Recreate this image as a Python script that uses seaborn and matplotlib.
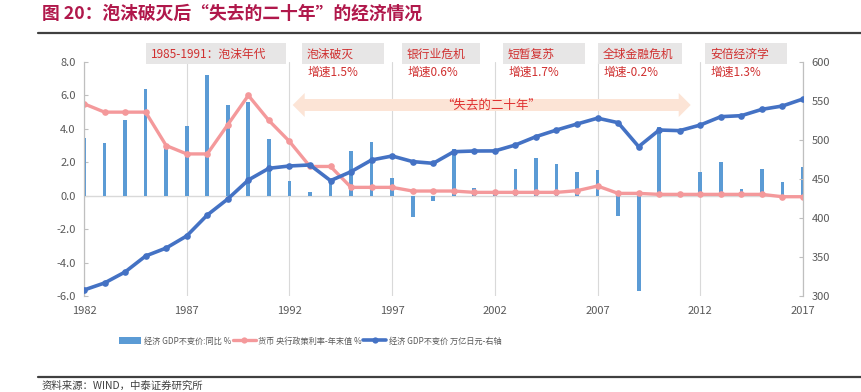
import matplotlib
matplotlib.use("Agg")
import matplotlib.pyplot as plt
import seaborn as sns
import numpy as np
import pandas as pd
from matplotlib.patches import Rectangle, Polygon, Patch
from matplotlib.lines import Line2D

years = list(range(1982, 2018))
gdp_growth = [3.43, 3.13, 4.53, 6.38, 2.97, 4.17, 7.22, 5.43, 5.63, 3.37,
              0.88, 0.20, 0.90, 2.67, 3.20, 1.04, -1.26, -0.32, 2.80, 0.44,
              0.12, 1.58, 2.24, 1.88, 1.42, 1.54, -1.22, -5.68, 4.13, -0.10,
              1.44, 2.04, 0.38, 1.60, 0.80, 1.74]
policy_rate = [5.5, 5.0, 5.0, 5.0, 3.0, 2.5, 2.5, 4.25, 6.0, 4.5,
               3.25, 1.75, 1.75, 0.5, 0.5, 0.5, 0.28, 0.28, 0.28, 0.2,
               0.2, 0.2, 0.2, 0.2, 0.3, 0.58, 0.14, 0.14, 0.08, 0.08,
               0.08, 0.08, 0.08, 0.08, -0.06, -0.06]
gdp_level = [307.7, 316.7, 330.8, 351.3, 361.5, 377.0, 403.8, 424.4, 448.7, 463.7,
             466.7, 468.0, 447.9, 459.4, 474.4, 479.5, 472.3, 470.1, 485.0, 485.9,
             486.0, 493.6, 504.3, 512.8, 520.5, 528.0, 522.2, 491.5, 512.8, 512.0,
             519.2, 529.9, 531.2, 539.3, 543.6, 552.6]
xtick_years = [1982, 1987, 1992, 1997, 2002, 2007, 2012, 2017]
period_labels = ["1985-1991：泡沫年代", "泡沫破灭", "银行业危机", "短暂复苏", "全球金融危机", "安倍经济学"]
period_growth = [None, "增速1.5%", "增速0.6%", "增速1.7%", "增速-0.2%", "增速1.3%"]
series_names = ["经济 GDP不变价:同比 %", "货币 央行政策利率-年末值 %", "经济 GDP不变价 万亿日元-右轴"]
title_text = "图 20：泡沫破灭后“失去的二十年”的经济情况"
arrow_text = "“失去的二十年”"
source_text = "资料来源：WIND，中泰证券研究所"

sns.set_style("white")
plt.rcParams["font.family"] = ["Noto Sans CJK SC", "DejaVu Sans"]
plt.rcParams["axes.unicode_minus"] = False

W, H = 862, 392
def fx(x): return x / W
def fy(y): return 1 - y / H

BAR_C = "#5b9bd5"
PINK_C = "#f4999b"
BLUE_C = "#4472c4"
GRAY_T = "#595959"
RED_T = "#d03030"

fig = plt.figure(figsize=(W / 100, H / 100), dpi=100)
ax = fig.add_axes([fx(84), fy(296), (803 - 84) / W, (296 - 62) / H])
ax2 = ax.twinx()

df = pd.DataFrame({"year": years, "gdp_growth": gdp_growth,
                   "policy_rate": policy_rate, "gdp_level": gdp_level})

sns.barplot(data=df, x="year", y="gdp_growth", native_scale=True, width=0.18,
            color=BAR_C, saturation=1, errorbar=None, ax=ax, zorder=2,
            linewidth=0)
sns.lineplot(data=df, x="year", y="policy_rate", color=PINK_C, lw=2.4,
             marker="o", markersize=4.8, markeredgewidth=0, ax=ax, zorder=3)
sns.lineplot(data=df, x="year", y="gdp_level", color=BLUE_C, lw=2.6,
             marker="o", markersize=4.8, markeredgewidth=0, ax=ax2, zorder=3)

ax.set_xlim(1982, 2017)
ax.set_ylim(-6, 8)
ax2.set_ylim(300, 600)
ax.set_yticks(np.arange(-6, 8.1, 2))
ax.set_yticklabels([f"{v:.1f}" for v in np.arange(-6, 8.1, 2)])
ax2.set_yticks(np.arange(300, 601, 50))
ax.set_xticks(xtick_years)
ax.set_xticklabels([str(y) for y in xtick_years])
for a in (ax, ax2):
    a.set_xlabel("")
    a.set_ylabel("")
    if a.get_legend():
        a.get_legend().remove()

ax.grid(axis="x", color="#d9d9d9", lw=0.8, zorder=0)
ax.set_axisbelow(True)
ax.axhline(0, color="#d9d9d9", lw=1.0, zorder=1)

for a in (ax, ax2):
    for s in ("top", "bottom"):
        a.spines[s].set_visible(False)
    a.spines["left"].set_color("#bfbfbf")
    a.spines["right"].set_color("#bfbfbf")
ax.tick_params(axis="x", length=0, pad=7, labelsize=8, labelcolor=GRAY_T)
ax.tick_params(axis="y", direction="in", length=3, color="#bfbfbf", pad=6,
               labelsize=8, labelcolor=GRAY_T)
ax2.tick_params(axis="y", direction="in", length=3, color="#bfbfbf", pad=6,
                labelsize=8, labelcolor=GRAY_T)

# Title and rules
fig.text(fx(42), fy(14), title_text, color="#b0184b", fontsize=12.8,
         fontweight="bold", ha="left", va="center")
fig.add_artist(Line2D([fx(38), fx(862)], [fy(33), fy(33)], color="#404040", lw=1.6,
                      transform=fig.transFigure))
fig.add_artist(Line2D([fx(38), fx(862)], [fy(377), fy(377)], color="#404040", lw=1.6,
                      transform=fig.transFigure))
fig.text(fx(42), fy(386), source_text, color="#404040", fontsize=7.5,
         ha="left", va="center")

# Period boxes
box_x = [(146, 286), (302, 384), (402, 480), (503, 585), (598, 682), (705, 787)]
for (x0, x1), lab, gr in zip(box_x, period_labels, period_growth):
    fig.add_artist(Rectangle((fx(x0), fy(64)), (x1 - x0) / W, 21 / H,
                             transform=fig.transFigure, facecolor="#e7e6e6",
                             edgecolor="none", zorder=5))
    fig.text(fx(x0 + 5), fy(54), lab, color=RED_T, fontsize=8.5,
             ha="left", va="center", zorder=6)
    if gr:
        fig.text(fx(x0 + 6), fy(72), gr, color=RED_T, fontsize=8.5,
                 ha="left", va="center", zorder=6)

# Double-headed arrow
x0, x1, yc, bh, hh, hl = 292.7, 690.7, 105, 6, 12, 12
pts = [(x0, yc), (x0 + hl, yc - hh), (x0 + hl, yc - bh), (x1 - hl, yc - bh),
       (x1 - hl, yc - hh), (x1, yc), (x1 - hl, yc + hh), (x1 - hl, yc + bh),
       (x0 + hl, yc + bh), (x0 + hl, yc + hh)]
fig.add_artist(Polygon([(fx(px), fy(py)) for px, py in pts], closed=True,
                       transform=fig.transFigure, facecolor="#fce4d6",
                       edgecolor="none", zorder=4))
fig.text(fx(491), fy(105), arrow_text, color="#e03030", fontsize=9,
         ha="center", va="center", zorder=6)

# Legend
handles = [Patch(facecolor=BAR_C, edgecolor="none"),
           Line2D([], [], color=PINK_C, lw=2.4, marker="o", markersize=4.5, markeredgewidth=0),
           Line2D([], [], color=BLUE_C, lw=2.6, marker="o", markersize=4.5, markeredgewidth=0)]
fig.legend(handles, series_names, loc="center", bbox_to_anchor=(fx(310), fy(341)),
           ncol=3, frameon=False, fontsize=5.9, labelcolor=GRAY_T,
           handlelength=2.8, handleheight=0.9, handletextpad=0.3, columnspacing=0.2)

fig.savefig("out.png", dpi=100)
